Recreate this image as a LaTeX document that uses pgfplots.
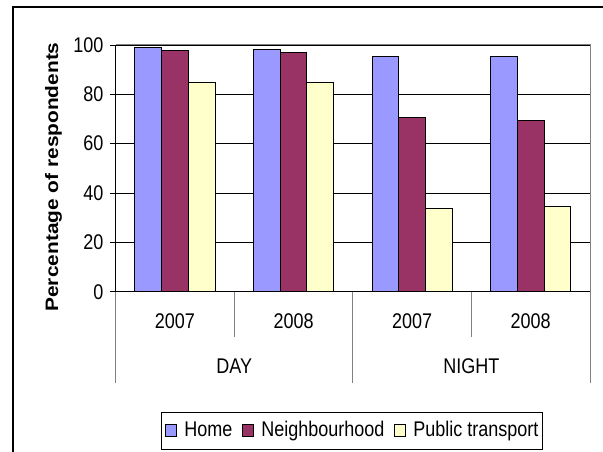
\documentclass[border=0pt]{standalone}
\usepackage{fontspec}
\setmainfont{Liberation Sans}
\usepackage{pgfplots}
\pgfplotsset{compat=1.18}
\definecolor{home}{HTML}{9999FF}
\definecolor{neigh}{HTML}{993366}
\definecolor{ptr}{HTML}{FFFFCC}
\newcommand{\vs}[1]{\scalebox{1}[1.18]{#1}}
\begin{document}
\fontsize{18pt}{21pt}\selectfont
\begin{tikzpicture}[x=1pt,y=1pt]
\path[use as bounding box] (0,0) rectangle (603,452);
\draw[line width=1.5pt] (13,-2) -- (13,445) -- (605,445);
\begin{axis}[
  at={(115.7pt,160.3pt)}, anchor=south west,
  scale only axis, width=474.3pt, height=246.7pt,
  xmin=-0.5, xmax=3.5, ymin=0, ymax=100,
  ybar=0pt, bar width=26.7pt,
  axis lines*=left,
  axis line style={-, black, line width=1pt},
  clip=false,
  ymajorgrids, grid style={black, line width=0.8pt},
  ytick={0,20,40,60,80,100},
  yticklabel={\vs{\pgfmathprintnumber{\tick}}},
  /pgf/number format/assume math mode=true,
  tick align=outside, major tick length=6pt,
  tick style={black, line width=0.8pt},
  xtick style={draw=none},
  xtick={0,1,2,3},
  xticklabels={\vs{2007},\vs{2008},\vs{2007},\vs{2008}},
  xticklabel style={anchor=center, yshift=-23.5pt},
  extra x ticks={0.5,2.5},
  extra x tick labels={\vs{DAY},\vs{NIGHT}},
  extra x tick style={xticklabel style={yshift=-45pt}},
  ylabel={\scalebox{1.16}[1]{\bfseries Percentage of respondents}},
  every axis y label/.style={at={(axis description cs:-0.1215,0.465)}, rotate=90, anchor=base},
  legend columns=3,
  legend cell align=left,
  legend image code/.code={\draw[#1, line width=1pt] (0pt,-5.5pt) rectangle (11pt,6.5pt);},
  legend style={at={(0.498,-0.5646)}, anchor=center, draw=black, line width=1pt,
    inner xsep=4pt, inner ysep=9pt,
    nodes={inner sep=0pt, text height=15pt, text depth=4.5pt},
    /tikz/every odd column/.append style={column sep=7pt},
    /tikz/every even column/.append style={column sep=10pt}},
]
\addplot[fill=home, draw=black, line width=1pt] coordinates {(0,99.1) (1,98.3) (2,95.3) (3,95.3)};
\addplot[fill=neigh, draw=black, line width=1pt] coordinates {(0,97.6) (1,96.9) (2,70.7) (3,69.2)};
\addplot[fill=ptr, draw=black, line width=1pt] coordinates {(0,84.6) (1,84.6) (2,33.6) (3,34.5)};
\legend{\vs{Home},\vs{Neighbourhood},\vs{Public transport}}
\draw[gray, line width=1pt] (rel axis cs:0,1) -- (rel axis cs:1,1) -- (rel axis cs:1,0);
\draw[gray, line width=1pt] (axis cs:-0.5,0) -- ([yshift=-91pt]axis cs:-0.5,0);
\draw[gray, line width=1pt] (axis cs:1.5,0) -- ([yshift=-91pt]axis cs:1.5,0);
\draw[gray, line width=1pt] (axis cs:3.5,0) -- ([yshift=-91pt]axis cs:3.5,0);
\draw[gray, line width=1pt] (axis cs:0.5,0) -- ([yshift=-45pt]axis cs:0.5,0);
\draw[gray, line width=1pt] (axis cs:2.5,0) -- ([yshift=-45pt]axis cs:2.5,0);
\end{axis}
\end{tikzpicture}
\end{document}
